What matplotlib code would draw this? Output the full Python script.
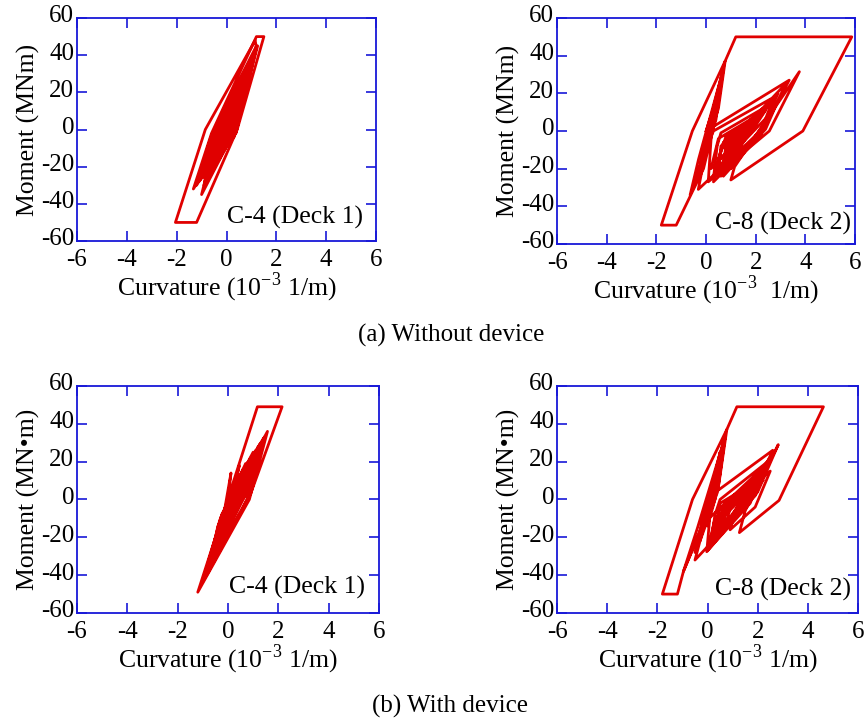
import matplotlib
matplotlib.use("Agg")
import matplotlib.pyplot as plt
from matplotlib.transforms import ScaledTranslation

plt.rcParams["font.family"] = ["Liberation Serif", "DejaVu Serif"]
plt.rcParams["mathtext.fontset"] = "custom"
plt.rcParams["mathtext.rm"] = "Liberation Serif"
plt.rcParams["axes.unicode_minus"] = False

# --- (a) without device, C-4 (Deck 1) ---
c4_nodev_curv = [0.0, 0.3, -0.3, 0.55, 0.15, -0.55, -0.25, 0.8, 0.3, -0.8, -0.4, 1.0, 0.35,
                 -1.05, -0.5, 1.25, 0.45, -1.33, -0.6, 1.2, 1.5, 0.43, -1.2, -2.05, -0.85, 1.15,
                 1.2, 0.4, -0.9, -0.55, 1.0, 0.35, -1.0, -0.45, 0.9, 0.25, -0.7, -0.3, 0.6, 0.1,
                 -0.5, -0.1, 0.85, 0.3, -1.2, -0.65, 1.1, 0.42, -0.95, -0.5, 0.95, 0.2, -0.75,
                 -0.35, 0.7, 0.1, -0.6, -0.15, 0.5, 0.0, -0.45, -0.2, 0.35, -0.1, -0.3, 0.2,
                 1.15, 0.5, -1.1, -0.6, 1.2, 0.38, -0.85, -0.3, 1.05, 0.3, -0.7, -0.25, 0.9, 0.25]
c4_nodev_mom = [0, 10, -12, 20, 0, -20, 0, 28, 2, -22, -2, 34, 2,
                -27, -3, 45, 5, -32, -2, 50, 50, 0, -50, -50, 0, 48,
                44, 0, -30, -6, 38, 0, -35, -5, 32, -2, -25, 0, 22, -5,
                -20, 0, 30, 4, -30, -5, 41, 3, -26, -1, 34, -3, -23,
                1, 26, -4, -19, 3, 19, -5, -17, -3, 14, -6, -10, 8,
                42, 5, -28, -3, 45, -2, -20, 4, 38, -4, -18, 5, 33, 0]

# --- (a) without device, C-8 (Deck 2) ---
c8_nodev_curv = [0.0, 0.3, -0.1, 0.5, 0.15, -0.35, -0.05, 0.77, 0.5, 0.1, -0.64, -0.3, 0.7,
                 0.35, 0.0, 0.72, 0.4, -0.2, 0.65, 0.3, -0.1, -1.2, -1.8, -0.55, 0.8, 1.2,
                 5.87, 3.9, 1.0, 1.15, 3.76, 2.55, 0.09, 0.2, 0.25, 3.35, 2.35, -0.31, 0.0,
                 0.3, 2.6, 2.0, 0.5, 0.6, 2.4, 1.8, 0.7, 0.8, 2.2, 1.6, 0.9, 1.0, 2.0, 1.2,
                 2.5, 1.9, 0.3, 0.45, 0.6, 2.3, 1.7, 0.4, 0.7, 2.6, 2.1, 0.6, 0.8, 2.2, 1.5,
                 0.2, 0.5, 1.9, 1.3, 0.9, 1.1, 2.4, 1.8, 0.5, 0.8, 1.7,
                 3.2, 2.4, 0.7, 0.9, 2.9, 2.2, 0.3, 0.6, 2.7, 2.3, 1.0, 1.2, 2.5, 1.9, 0.8]
c8_nodev_mom = [0, 12, -10, 22, 0, -26, -6, 37, 12, -5, -34, -15, 33,
                5, -12, 35, 6, -18, 30, 2, -20, -50, -50, 0, 38, 50,
                50, 0, -26, -19, 31.5, 0, -27, -5, 2, 27, 2, -31, -10,
                0, 17, 5, -22, -8, 13, 2, -18, -8, 10, 0, -14, -6, 6, -4,
                14, 3, -25, -8, -1, 12, 0, -21, -6, 15, 6, -24, -10, 9, -3,
                -20, -4, 7, -5, -17, -8, 11, -1, -15, -3, 4,
                25, 1, -24, -12, 20, -2, -27, -10, 17, 3, -20, -10, 8, -6, -18]

# --- (b) with device, C-4 (Deck 1) ---
c4_dev_curv = [0.0, 0.12, -0.3, 0.0, 0.45, 0.25, -0.5, -0.2, 0.9, 0.6, -0.7, -0.3, 1.57,
               0.85, -1.2, -0.01, 1.17, 2.15, 0.9, -0.85, -0.4, 1.4, 0.8, -0.6, -0.2, 1.2,
               0.6, -0.4, -0.1, 0.8, 0.4, -0.2, 0.0, 1.0, 0.5, -0.75, -0.35, 1.3, 0.7, -0.55,
               -0.25, 1.1, 0.5, -0.65, -0.3, 0.7, 0.3, -0.45, -0.15, 0.6, 0.2, -0.3, 0.0, 0.4,
               1.45, 0.75, -0.95, -0.45, 1.25, 0.65, -0.8, -0.4, 1.05, 0.45, -1.02, -0.5, 0.8,
               0.3, -0.6]
c4_dev_mom = [0, 14, -18, -5, 18, 5, -28, -8, 22, 5, -35, -10, 36,
              0, -49, 0, 49, 49, 3, -40, -15, 32, 5, -30, -10, 28,
              5, -22, -5, 20, 3, -12, 0, 25, 2, -36, -12, 30, 3, -27,
              -8, 26, 3, -32, -10, 19, 2, -24, -6, 16, 0, -16, -2, 10,
              33, 0, -42, -18, 29, 2, -38, -14, 24, -2, -44, -20, 18,
              -3, -30]

# --- (b) with device, C-8 (Deck 2) ---
c8_dev_curv = [0.0, 0.35, -0.1, 0.5, 0.2, -0.5, -0.15, 0.77, 0.45, -0.96, -0.4, 0.7, 0.3,
               0.0, 0.72, 0.4, -0.3, 0.65, 0.25, -0.96, -1.2, -1.8, -0.6, 0.77, 1.17, 4.62,
               2.85, 1.27, 1.5, 2.82, 2.0, -0.03, 0.1, 0.23, 2.6, 1.7, 0.3, 0.5, 2.0, 1.4,
               0.6, 0.75, 1.8, 1.1, 0.4, 0.5, 1.5, 0.8, 2.2, 1.6, 0.1, 0.3, 0.5, 2.4, 1.8,
               0.4, 0.6, 2.0, 1.5, 0.2, 0.45, 1.8, 1.2, 0.7, 0.9, 2.1, 1.6, 0.5, 0.7, 1.6,
               2.6, 1.9, -0.5, -0.1, 2.3, 1.7, 0.0, 0.3, 2.5, 1.9, 0.9, 1.1, 2.2]
c8_dev_mom = [0, 15, -10, 25, 2, -28, -8, 37, 8, -38, -15, 33, 0,
              -14, 35, 4, -22, 30, 0, -38, -50, -50, 0, 37, 49, 49,
              -0.5, -17.5, -6, 29, 4, -27.6, -8, 3, 26, 0, -22, -8, 14, 0,
              -15, -5, 10, -3, -12, -2, 6, -6, 17, 2, -25, -8, 0, 20, 3,
              -20, -6, 12, 0, -23, -6, 9, -4, -14, -5, 13, 1, -16, -2, 6,
              24, 2, -32, -12, 18, -2, -27, -10, 15, -4, -16, -6, 10]

xticks = [-6, -4, -2, 0, 2, 4, 6]
yticks = [-60, -40, -20, 0, 20, 40, 60]

RED = "#e00000"
BLUE = "#1818d8"


def draw_panel(fig, ax, curv, mom, tag, ylabel, xlabel, tag_x, tag_y):
    ax.plot(curv, mom, color=RED, lw=2.0)
    ax.set_xlim(-6, 6)
    ax.set_ylim(-60, 60)
    ax.set_xticks(xticks)
    ax.set_yticks(yticks)
    ax.tick_params(direction="in", top=True, right=True, length=7, width=1.2,
                   color=BLUE, labelsize=18)
    ax.tick_params(axis="x", pad=5.5)
    ax.tick_params(axis="y", pad=2)
    # y tick labels sit a little above their ticks in the original
    up = ScaledTranslation(0, 3 / 72, fig.dpi_scale_trans)
    for lab in ax.get_yticklabels():
        lab.set_transform(lab.get_transform() + up)
    for s in ax.spines.values():
        s.set_color(BLUE)
        s.set_linewidth(1.3)
    ax.set_xlabel(xlabel, fontsize=18.5, labelpad=0)
    ax.set_ylabel(ylabel, fontsize=18.5, labelpad=1)
    ax.text(tag_x, tag_y, tag, transform=ax.transAxes, ha="right", va="baseline", fontsize=18.5)


fig = plt.figure(figsize=(8.66, 7.24), dpi=100)

ax1 = fig.add_axes([0.0889, 0.6671, 0.3453, 0.308])
draw_panel(fig, ax1, c4_nodev_curv, c4_nodev_mom, "C-4 (Deck 1)", "Moment (MNm)",
           "Curvature (10$^{-3}$ 1/m)", 0.957, 0.076)

ax2 = fig.add_axes([0.6432, 0.663, 0.3441, 0.3121])
draw_panel(fig, ax2, c8_nodev_curv, c8_nodev_mom, "C-8 (Deck 2)", "Moment (MNm)",
           "Curvature (10$^{-3}$  1/m)", 0.986, 0.062)

ax3 = fig.add_axes([0.0889, 0.1533, 0.3487, 0.3136])
draw_panel(fig, ax3, c4_dev_curv, c4_dev_mom, "C-4 (Deck 1)", "Moment (MN\u2022m)",
           "Curvature (10$^{-3}$ 1/m)", 0.954, 0.084)

ax4 = fig.add_axes([0.6432, 0.1533, 0.3476, 0.3136])
draw_panel(fig, ax4, c8_dev_curv, c8_dev_mom, "C-8 (Deck 2)", "Moment (MN\u2022m)",
           "Curvature (10$^{-3}$ 1/m)", 0.977, 0.075)

fig.text(0.521, 0.536, "(a) Without device", ha="center", va="center", fontsize=18)
fig.text(0.52, 0.0249, "(b) With device", ha="center", va="center", fontsize=18)

fig.savefig("out.png", dpi=100)
plt.close(fig)
